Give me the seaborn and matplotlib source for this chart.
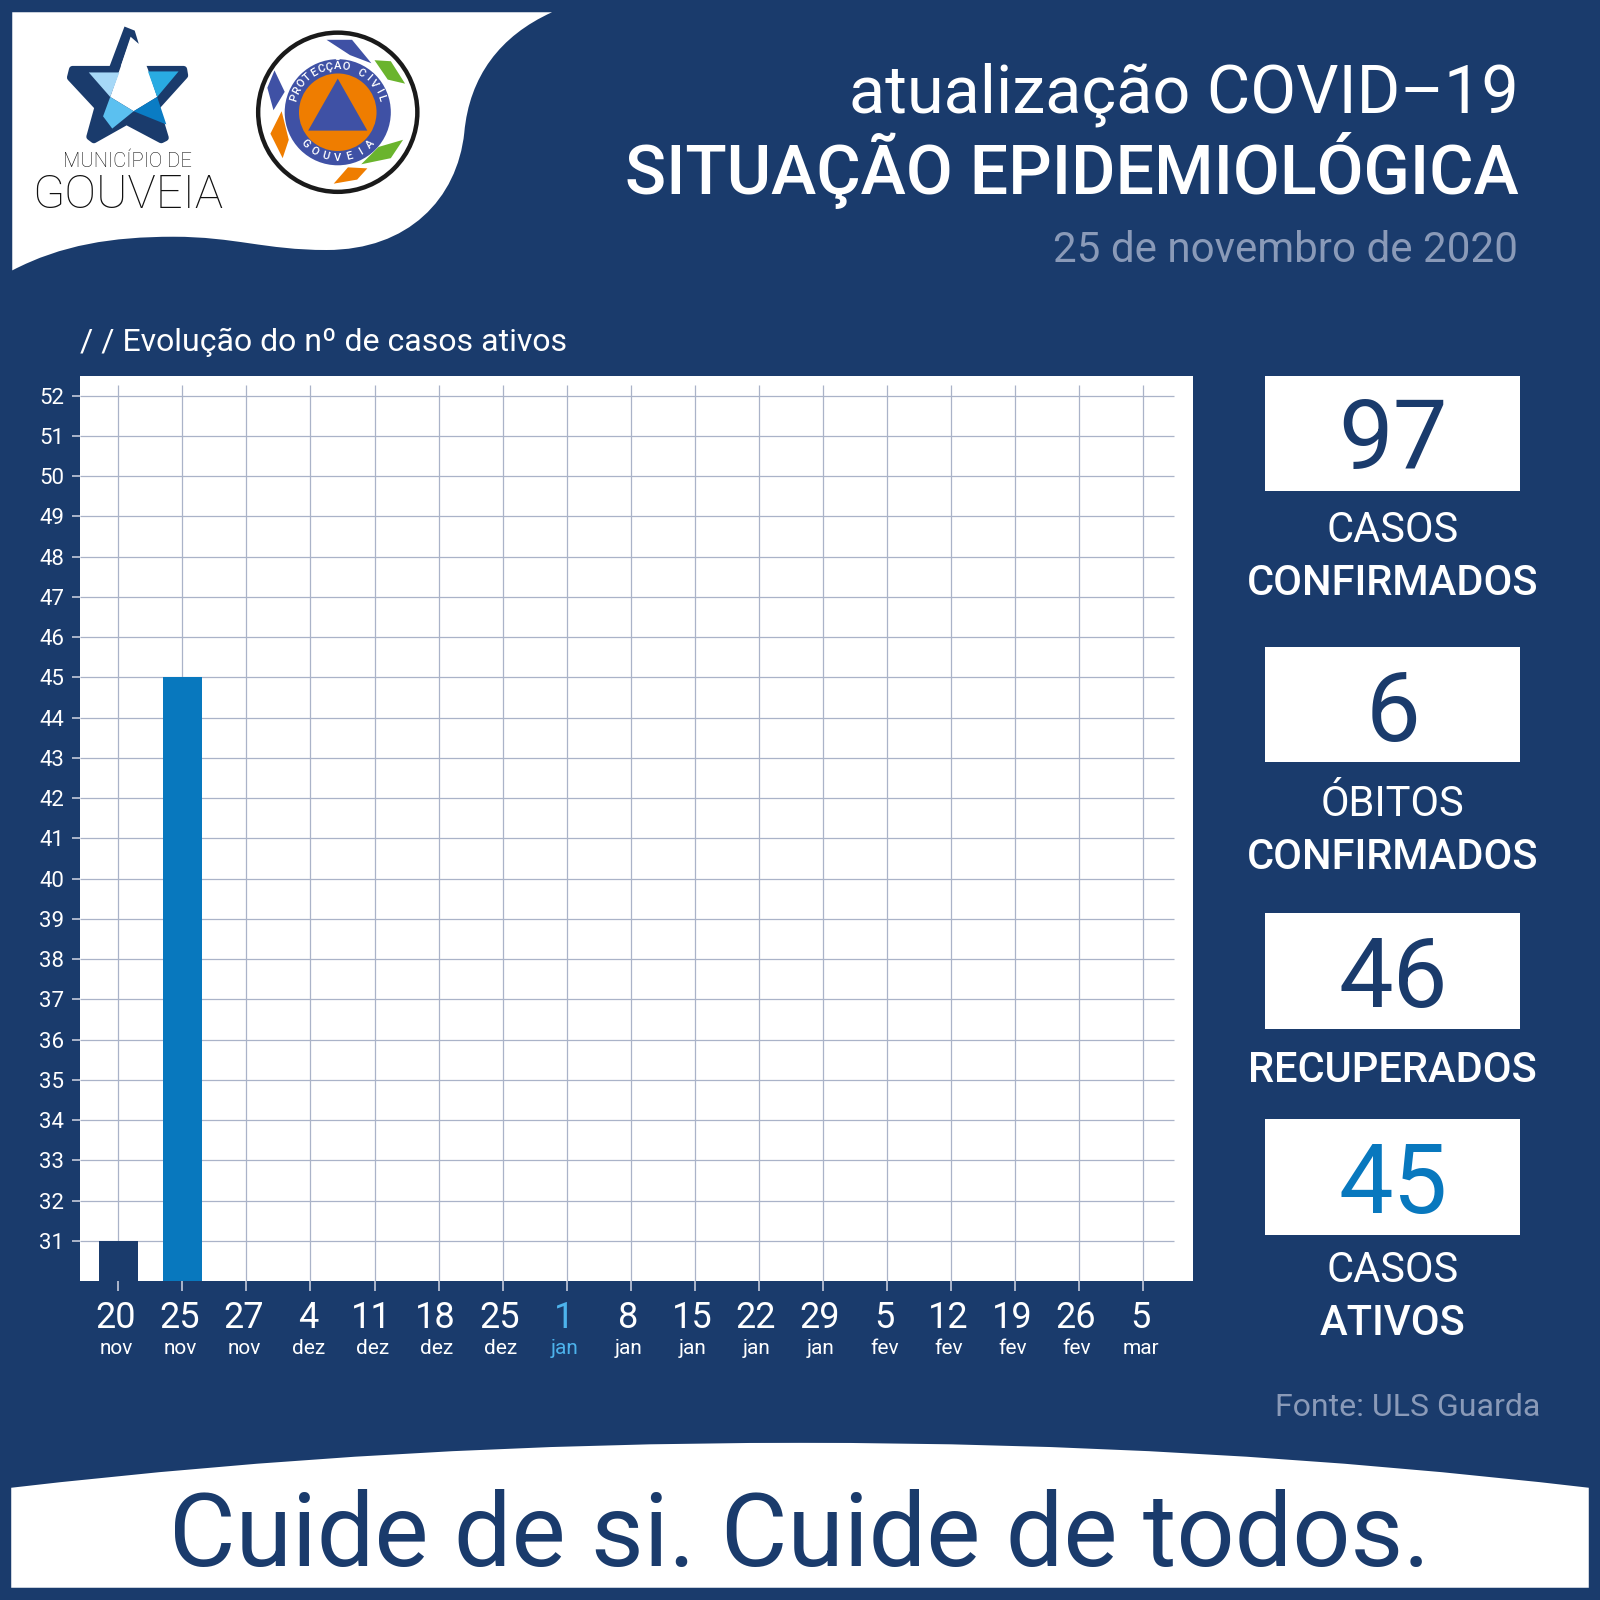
# boletim covid gouveia

import numpy as np
import pandas as pd
import matplotlib
matplotlib.use("Agg")
import matplotlib.pyplot as plt
import seaborn as sns
from matplotlib.patches import Circle, PathPatch, Polygon, Rectangle
from matplotlib.path import Path
from matplotlib.transforms import ScaledTranslation

NAVY = "#1a3b6c"
BLUE = "#0878be"
LIGHT = "#4db3ec"
GREY = "#8a9ab8"
GRID = "#aab3c8"

dias = ["20", "25", "27", "4", "11", "18", "25", "1", "8", "15", "22", "29", "5", "12", "19", "26", "5"]
meses = ["nov", "nov", "nov", "dez", "dez", "dez", "dez", "jan", "jan", "jan", "jan", "jan", "fev", "fev", "fev", "fev", "mar"]
casos = [31, 45] + [np.nan] * 15
cores = [NAVY, BLUE] + [NAVY] * 15
y_ticks = list(range(31, 53))

painel_valores = ["97", "6", "46", "45"]
painel_cores = [NAVY, NAVY, NAVY, BLUE]
painel_top = ["CASOS", "ÓBITOS", None, "CASOS"]
painel_bottom = ["CONFIRMADOS", "CONFIRMADOS", "RECUPERADOS", "ATIVOS"]

df = pd.DataFrame({
    "data": [f"{d} {m}" for d, m in zip(dias, meses)],
    "casos": casos,
})

sns.set_theme(style="white")
plt.rcParams["font.family"] = ["Roboto", "DejaVu Sans"]
plt.rcParams["patch.linewidth"] = 0

fig = plt.figure(figsize=(16, 16), dpi=100, facecolor=NAVY)

# fundo, na escala da imagem
bg = fig.add_axes([0, 0, 1, 1], zorder=0)
bg.set_xlim(0, 1568)
bg.set_ylim(1568, 0)
bg.axis("off")

onda = Path(
    [(12, 12), (541, 12),
     (490, 35), (460, 75), (455, 130),
     (448, 195), (400, 245), (320, 245),
     (260, 245), (230, 232), (170, 232),
     (110, 232), (60, 240), (12, 265),
     (12, 12)],
    [Path.MOVETO, Path.LINETO] + [Path.CURVE4] * 12 + [Path.CLOSEPOLY],
)
bg.add_patch(PathPatch(onda, fc="white", ec="none"))

faixa = Path(
    [(11, 1458),
     (270, 1428), (520, 1414), (784, 1414),
     (1050, 1414), (1300, 1428), (1557, 1458),
     (1557, 1556), (11, 1556), (11, 1458)],
    [Path.MOVETO] + [Path.CURVE4] * 6 + [Path.LINETO, Path.LINETO, Path.CLOSEPOLY],
)
bg.add_patch(PathPatch(faixa, fc="white", ec="none"))

# estrela do municipio
bg.add_patch(Polygon([(71, 68), (180, 68), (181, 74), (153, 105), (162, 135), (158, 137), (124, 119),
                      (92, 137), (88, 134), (96, 105), (69, 76)],
                     fc=NAVY, ec=NAVY, lw=5, joinstyle="round"))
bg.add_patch(Polygon([(107, 66), (117, 69), (128, 36), (136, 43), (132, 30), (122, 26)], fc=NAVY))
bg.add_patch(Polygon([(117, 69), (128, 38), (135, 43), (145, 68), (154, 95), (131, 109), (108, 95)], fc="white"))
bg.add_patch(Polygon([(87, 71), (117, 71), (108, 95)], fc="#a6d8f7"))
bg.add_patch(Polygon([(145, 70), (175, 70), (154, 95)], fc="#29abe2"))
bg.add_patch(Polygon([(108, 95), (131, 109), (110, 126), (101, 114)], fc="#5bc0f0"))
bg.add_patch(Polygon([(154, 95), (163, 122), (131, 109)], fc="#0a7cc4"))
bg.text(125, 158, "MUNICÍPIO DE", ha="center", va="center", fontsize=14.5, weight="light", color="#111111")
bg.text(125, 191, "GOUVEIA", ha="center", va="center", fontsize=34, weight="light", color="#111111")

# logo proteccao civil
cx, cy = 331, 110
bg.add_patch(Circle((cx, cy), 78, fc="white", ec="#1a1a1a", lw=3.2))
bg.add_patch(Circle((cx, cy), 52, fc="#3f51a5"))
bg.add_patch(Circle((cx, cy), 38, fc="#ef7d00"))
bg.add_patch(Polygon([(331, 77), (302, 128), (360, 128)], fc="#3f51a5"))
bg.add_patch(Polygon([(320, 39), (345, 39), (364, 62), (343, 54)], fc="#3f51a5"))
bg.add_patch(Polygon([(367, 59), (383, 60), (397, 82), (380, 78)], fc="#6ab42d"))
bg.add_patch(Polygon([(269, 69), (279, 90), (268, 108), (262, 86)], fc="#3f51a5"))
bg.add_patch(Polygon([(276, 109), (283, 137), (277, 155), (265, 131)], fc="#ef7d00"))
bg.add_patch(Polygon([(395, 137), (383, 155), (354, 161), (371, 144)], fc="#6ab42d"))
bg.add_patch(Polygon([(341, 164), (360, 165), (350, 176), (327, 180)], fc="#ef7d00"))

for txt, a0, a1, r, sinal in [("PROTECÇÃO CIVIL", 162, 18, 45, -90), ("GOUVEIA", 224, 316, 45, 90)]:
    for ch, ang in zip(txt, np.linspace(a0, a1, len(txt))):
        rad = np.radians(ang)
        bg.text(cx + r * np.cos(rad), cy - r * np.sin(rad), ch, ha="center", va="center",
                rotation=ang + sinal, fontsize=8, color="white", weight="medium")

# titulos
bg.text(1488, 110, "atualização COVID–19", ha="right", va="baseline", fontsize=48, color="white")
bg.text(1488, 190, "SITUAÇÃO EPIDEMIOLÓGICA", ha="right", va="baseline", fontsize=49, color="white", weight="medium")
bg.text(1488, 257, "25 de novembro de 2020", ha="right", va="baseline", fontsize=30.3, color=GREY)
bg.text(78, 344, "/ / Evolução do nº de casos ativos", ha="left", va="baseline", fontsize=23, color="white")

# paineis
caixas = [368, 634, 895, 1097]
base_rotulo = [215, 218, 165, 211]
for top, base, valor, cor, l1, l2 in zip(caixas, base_rotulo, painel_valores, painel_cores, painel_top, painel_bottom):
    bg.add_patch(Rectangle((1240, top), 250, 113, fc="white", ec="none"))
    bg.text(1365, top + 92, valor, ha="center", va="baseline", fontsize=70, color=cor)
    bg.text(1365, top + base, l2, ha="center", va="baseline", fontsize=30, color="white", weight="medium")
    if l1 is not None:
        bg.text(1365, top + base - 52, l1, ha="center", va="baseline", fontsize=30, color="white")

bg.text(1510, 1388, "Fonte: ULS Guarda", ha="right", va="baseline", fontsize=23, color=GREY)
bg.text(784, 1535, "Cuide de si. Cuide de todos.", ha="center", va="baseline", fontsize=73.5, color=NAVY)

# grafico
ax = fig.add_axes([78 / 1568, 1 - 1255 / 1568, (1169 - 78) / 1568, (1255 - 368) / 1568], zorder=1)
ax.set_facecolor("white")

ax.hlines(y_ticks, -0.606, 16.48, color=GRID, lw=0.9, zorder=0.5)
ax.vlines(range(len(dias)), 30, 52.27, color=GRID, lw=0.9, zorder=0.5)

sns.barplot(data=df, x="data", y="casos", hue="data", palette=cores, width=0.62,
            dodge=False, legend=False, saturation=1, linewidth=0, ax=ax, zorder=2)

ax.set_xlim(-0.606, 16.78)
ax.set_ylim(30.01, 52.5)
ax.set_xlabel("")
ax.set_ylabel("")
ax.set_yticks(y_ticks)
ax.set_xticks(range(len(dias)))
ax.set_xticklabels(dias)
ax.tick_params(axis="y", length=6, width=1.2, color="#c5cbdb", labelcolor="white", labelsize=16, pad=5, left=True)
ax.tick_params(axis="x", length=7, width=1.2, color="#c5cbdb", labelcolor="white", labelsize=26, pad=7, bottom=True)
for spine in ax.spines.values():
    spine.set_visible(False)

desloca = ScaledTranslation(-2 / 72, 0, fig.dpi_scale_trans)
for i, (lab, mes) in enumerate(zip(ax.get_xticklabels(), meses)):
    cor = LIGHT if mes == "jan" and dias[i] == "1" else "white"
    lab.set_color(cor)
    lab.set_transform(lab.get_transform() + desloca)
    ax.annotate(mes, (i, 0), xycoords=("data", "axes fraction"), xytext=(-1.5, -42), textcoords="offset points",
                ha="center", va="top", fontsize=15, color=cor, annotation_clip=False)

fig.savefig("out.png", dpi=100, facecolor=NAVY)
